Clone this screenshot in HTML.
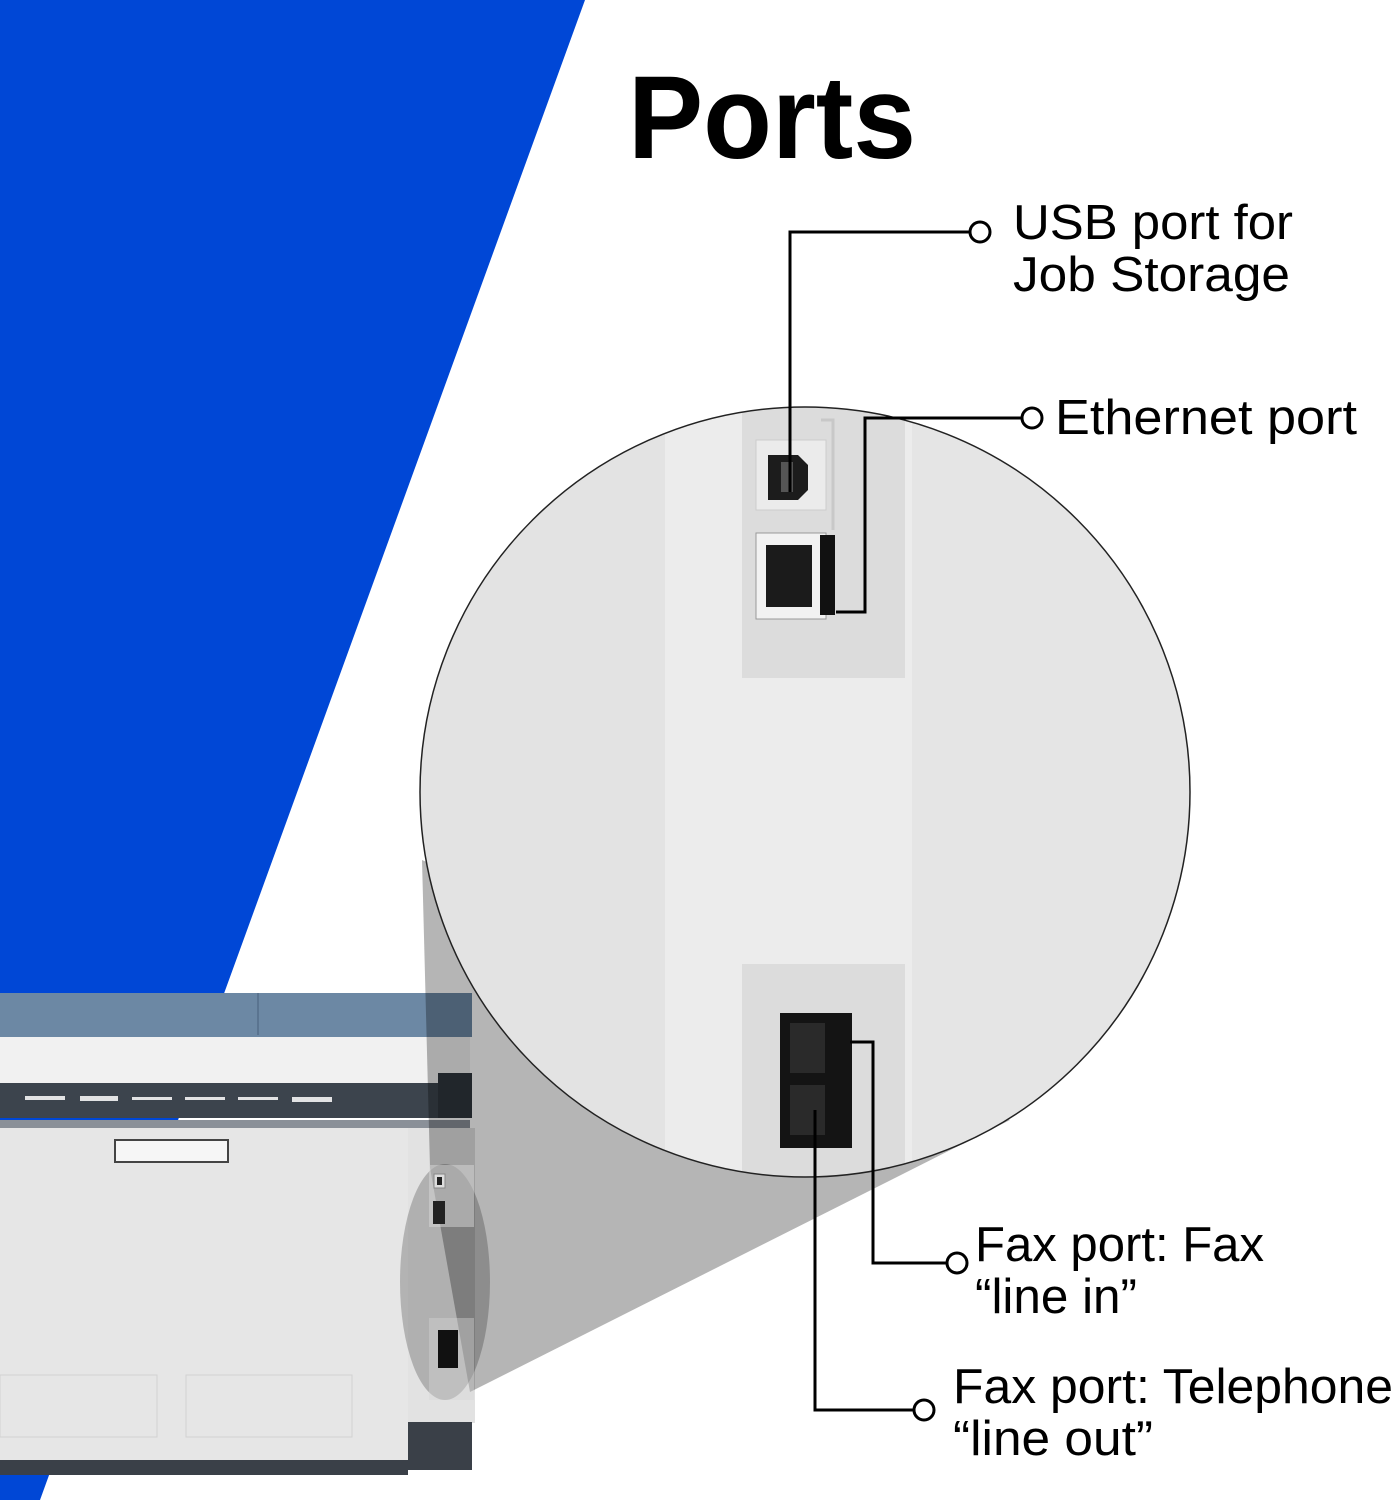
<!DOCTYPE html>
<html><head><meta charset="utf-8"><style>html,body{margin:0;padding:0;background:#fff}svg{display:block}</style></head>
<body>
<svg width="1395" height="1500" viewBox="0 0 1395 1500" xmlns="http://www.w3.org/2000/svg" font-family="Liberation Sans, sans-serif">
<rect width="1395" height="1500" fill="#fff"/>
<polygon points="0,0 585,0 40,1500 0,1500" fill="#0047d6"/>
<!-- printer -->
<rect x="0" y="993" width="472" height="44" fill="#6c88a4"/>
<line x1="258" y1="993" x2="258" y2="1035" stroke="#5a7490" stroke-width="2"/>
<rect x="0" y="1037" width="470" height="46" fill="#f1f1f1"/>
<rect x="0" y="1083" width="470" height="35" fill="#3c444d"/>
<rect x="438" y="1073" width="34" height="45" fill="#2f363d"/>
<g fill="#fff" opacity="0.85">
<rect x="25" y="1096" width="40" height="4"/><rect x="80" y="1096" width="38" height="5"/><rect x="132" y="1097" width="40" height="3"/><rect x="185" y="1097" width="40" height="3"/><rect x="238" y="1097" width="40" height="3"/><rect x="292" y="1097" width="40" height="5"/>
</g>
<rect x="0" y="1120" width="470" height="8" fill="#8a9098"/>
<rect x="0" y="1128" width="408" height="334" fill="#e6e6e6"/>
<rect x="408" y="1128" width="67" height="295" fill="#e2e2e2"/>
<rect x="115" y="1140" width="113" height="22" fill="#f6f6f6" stroke="#444" stroke-width="2"/>
<rect x="0" y="1375" width="157" height="62" fill="none" stroke="#d2d2d2"/>
<rect x="186" y="1375" width="166" height="62" fill="none" stroke="#d2d2d2"/>
<rect x="408" y="1422" width="64" height="48" fill="#3a4048"/>
<rect x="0" y="1460" width="408" height="15" fill="#3a4048"/>
<!-- cone -->
<polygon points="422,860 430,1168 470,1392 1010,1120" fill="#000" opacity="0.29"/>
<ellipse cx="445" cy="1282" rx="45" ry="118" fill="#000" opacity="0.22"/>
<rect x="429" y="1165" width="45" height="62" fill="#d8d8d8" opacity="0.5"/>
<rect x="434" y="1174" width="11" height="14" fill="#ddd" stroke="#888"/><rect x="437" y="1177" width="5" height="8" fill="#222"/>
<rect x="433" y="1201" width="12" height="23" fill="#222"/>
<rect x="429" y="1318" width="45" height="82" fill="#d8d8d8" opacity="0.4"/>
<rect x="438" y="1330" width="20" height="38" fill="#111"/>
<!-- big circle -->
<defs><clipPath id="c"><circle cx="805" cy="792" r="385"/></clipPath></defs>
<g clip-path="url(#c)">
<rect x="400" y="400" width="800" height="800" fill="#e3e3e3"/>
<rect x="665" y="400" width="248" height="800" fill="#ececec"/>
<rect x="912" y="400" width="290" height="800" fill="#e5e5e5"/>
<rect x="742" y="400" width="163" height="278" fill="#dcdcdc"/>
<rect x="756" y="440" width="70" height="70" fill="#ebebeb" stroke="#ccc"/>
<path d="M768,455 h30 l10,10 v25 l-10,10 h-30 z" fill="#1c1c1c"/>
<rect x="781" y="462" width="12" height="30" fill="#555"/>
<rect x="756" y="533" width="70" height="86" fill="#f2f2f2" stroke="#999"/>
<rect x="766" y="545" width="46" height="62" fill="#1b1b1b"/>
<rect x="820" y="535" width="15" height="80" fill="#111"/>
<path d="M821,420 h12 v110" stroke="#c8c8c8" stroke-width="3" fill="none"/>
<rect x="742" y="964" width="163" height="240" fill="#dcdcdc"/>
<rect x="780" y="1013" width="72" height="135" fill="#141414"/>
<rect x="790" y="1023" width="35" height="50" fill="#2a2a2a"/>
<rect x="790" y="1085" width="35" height="50" fill="#2a2a2a"/>
</g>
<circle cx="805" cy="792" r="385" fill="none" stroke="#222" stroke-width="1.5"/>
<!-- connectors -->
<g stroke="#000" stroke-width="3" fill="none">
<path d="M790,492 V232 H970"/><circle cx="980" cy="232" r="10" fill="#fff"/>
<path d="M836,612 H865 V418 H1022"/><circle cx="1032" cy="418" r="10" fill="#fff"/>
<path d="M850,1042 H873 V1263 H948"/><circle cx="957" cy="1263" r="10" fill="#fff"/>
<path d="M815,1110 V1410 H914"/><circle cx="924" cy="1410" r="10" fill="#fff"/>
</g>
<!-- text -->
<text x="628" y="158" font-size="118" font-weight="bold" textLength="288" lengthAdjust="spacingAndGlyphs" fill="#000">Ports</text>
<g font-size="49" fill="#000">
<text x="1013" y="239" textLength="280" lengthAdjust="spacingAndGlyphs">USB port for</text>
<text x="1013" y="291" textLength="277" lengthAdjust="spacingAndGlyphs">Job Storage</text>
<text x="1055" y="434" textLength="302" lengthAdjust="spacingAndGlyphs">Ethernet port</text>
<text x="975" y="1261" textLength="289" lengthAdjust="spacingAndGlyphs">Fax port: Fax</text>
<text x="975" y="1313" textLength="162" lengthAdjust="spacingAndGlyphs">“line in”</text>
<text x="953" y="1403" textLength="440" lengthAdjust="spacingAndGlyphs">Fax port: Telephone</text>
<text x="953" y="1455" textLength="200" lengthAdjust="spacingAndGlyphs">“line out”</text>
</g>
</svg>
</body></html>
